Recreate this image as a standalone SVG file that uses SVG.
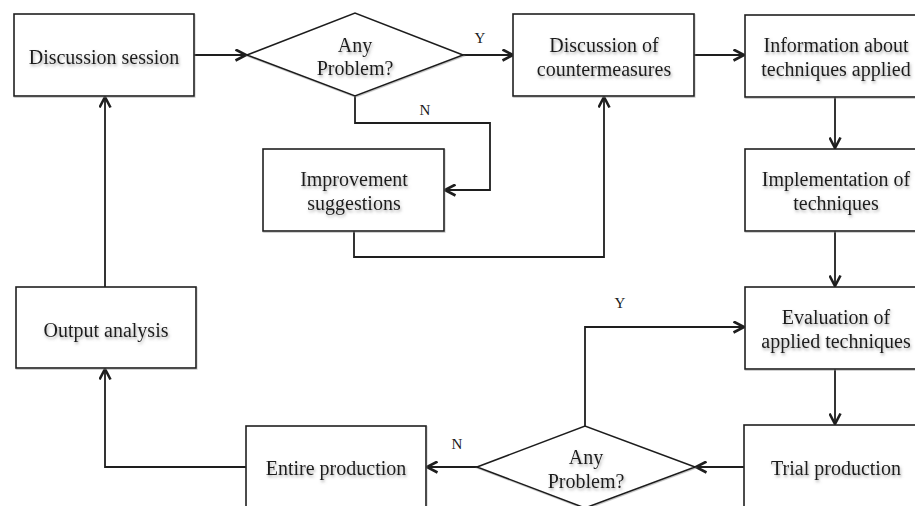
<svg xmlns="http://www.w3.org/2000/svg" width="915" height="506" viewBox="0 0 915 506">
  <defs>
    <style>
      .box { fill: #ffffff; stroke: #1e1e1e; stroke-width: 1.6; }
      .edge { fill: none; stroke: #1e1e1e; stroke-width: 1.8; }
      .lbl { font-family: "Liberation Serif", "Times New Roman", serif; font-size: 20px; fill: #1a1a1a; text-anchor: middle; filter: url(#txtShadow); }
      .tag { font-family: "Liberation Serif", "Times New Roman", serif; font-size: 15px; fill: #1a1a1a; text-anchor: middle; }
    </style>
    <filter id="txtShadow" x="-10%" y="-30%" width="120%" height="170%">
      <feDropShadow dx="1" dy="2" stdDeviation="1.4" flood-color="#6f6f6f" flood-opacity="0.6"/>
    </filter>
    <filter id="boxShadow" x="-5%" y="-5%" width="110%" height="115%">
      <feDropShadow dx="0.6" dy="1" stdDeviation="0.6" flood-color="#888888" flood-opacity="0.5"/>
    </filter>
    <marker id="arrow" viewBox="0 0 13 13" refX="12" refY="6.5" markerWidth="13" markerHeight="13" markerUnits="userSpaceOnUse" orient="auto">
      <path d="M1.5,1 L12,6.5 L1.5,12" fill="none" stroke="#1e1e1e" stroke-width="2.6" stroke-linejoin="miter"/>
    </marker>
  </defs>

  <rect width="915" height="506" fill="#ffffff"/>

  <!-- connectors -->
  <g id="connectors">
    <path class="edge" d="M194,55 H246" marker-end="url(#arrow)"/>
    <path class="edge" d="M463,55 H513" marker-end="url(#arrow)"/>
    <path class="edge" d="M694,55 H744" marker-end="url(#arrow)"/>
    <path class="edge" d="M355,96 V123 H490 V190 H445" marker-end="url(#arrow)"/>
    <path class="edge" d="M354,231 V257 H604 V97" marker-end="url(#arrow)"/>
    <path class="edge" d="M835,97 V148" marker-end="url(#arrow)"/>
    <path class="edge" d="M835,231 V286" marker-end="url(#arrow)"/>
    <path class="edge" d="M835,369 V424" marker-end="url(#arrow)"/>
    <path class="edge" d="M744,467 H696" marker-end="url(#arrow)"/>
    <path class="edge" d="M585,426 V327 H744" marker-end="url(#arrow)"/>
    <path class="edge" d="M477,467 H427" marker-end="url(#arrow)"/>
    <path class="edge" d="M246,467 H105 V369" marker-end="url(#arrow)"/>
    <path class="edge" d="M105,287 V97" marker-end="url(#arrow)"/>
    <text class="tag" x="480" y="43">Y</text>
    <text class="tag" x="425" y="115">N</text>
    <text class="tag" x="620" y="308">Y</text>
    <text class="tag" x="457" y="449">N</text>
  </g>

  <g id="discussion-session">
    <rect class="box" x="14" y="14" width="180" height="82" filter="url(#boxShadow)"/>
    <text class="lbl" x="104" y="64">Discussion session</text>
  </g>

  <g id="decision-top">
    <polygon class="box" points="247,55 355,13 463,55 355,96" filter="url(#boxShadow)"/>
    <text class="lbl" x="355" y="52">Any</text>
    <text class="lbl" x="355" y="75">Problem?</text>
  </g>

  <g id="countermeasures">
    <rect class="box" x="513" y="14" width="181" height="82" filter="url(#boxShadow)"/>
    <text class="lbl" x="604" y="52">Discussion of</text>
    <text class="lbl" x="604" y="76">countermeasures</text>
  </g>

  <g id="information">
    <rect class="box" x="745" y="15" width="180" height="82" filter="url(#boxShadow)"/>
    <text class="lbl" x="836" y="52">Information about</text>
    <text class="lbl" x="836" y="76">techniques applied</text>
  </g>

  <g id="improvement">
    <rect class="box" x="263" y="149" width="181" height="82" filter="url(#boxShadow)"/>
    <text class="lbl" x="354" y="186">Improvement</text>
    <text class="lbl" x="354" y="210">suggestions</text>
  </g>

  <g id="implementation">
    <rect class="box" x="745" y="149" width="180" height="82" filter="url(#boxShadow)"/>
    <text class="lbl" x="836" y="186">Implementation of</text>
    <text class="lbl" x="836" y="210">techniques</text>
  </g>

  <g id="evaluation">
    <rect class="box" x="745" y="287" width="180" height="82" filter="url(#boxShadow)"/>
    <text class="lbl" x="836" y="324">Evaluation of</text>
    <text class="lbl" x="836" y="348">applied techniques</text>
  </g>

  <g id="output-analysis">
    <rect class="box" x="16" y="287" width="180" height="81" filter="url(#boxShadow)"/>
    <text class="lbl" x="106" y="337">Output analysis</text>
  </g>

  <g id="trial-production">
    <rect class="box" x="744" y="425" width="181" height="82" filter="url(#boxShadow)"/>
    <text class="lbl" x="836" y="475">Trial production</text>
  </g>

  <g id="decision-bottom">
    <polygon class="box" points="477,467 585,426 695,467 585,508" filter="url(#boxShadow)"/>
    <text class="lbl" x="586" y="464">Any</text>
    <text class="lbl" x="586" y="488">Problem?</text>
  </g>

  <g id="entire-production">
    <rect class="box" x="246" y="426" width="180" height="82" filter="url(#boxShadow)"/>
    <text class="lbl" x="336" y="475">Entire production</text>
  </g>
</svg>
